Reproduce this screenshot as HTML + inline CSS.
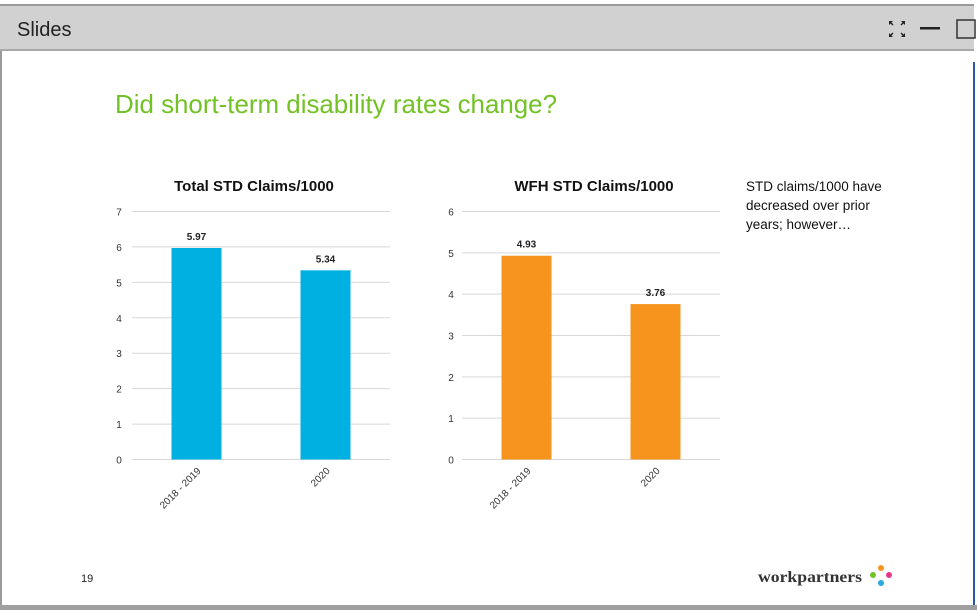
<!DOCTYPE html>
<html><head><meta charset="utf-8"><style>
html,body{margin:0;padding:0;background:#fff;}
svg{display:block;font-family:"Liberation Sans",Arial,sans-serif;}
</style></head><body>
<svg id="page" width="977" height="610" viewBox="0 0 977 610" xmlns="http://www.w3.org/2000/svg">
  <rect x="0" y="0" width="977" height="610" fill="#fff"/>
  <rect x="0" y="4" width="974" height="2" fill="#9a9a9a"/>
  <rect x="0" y="6" width="974" height="44" fill="#d1d1d1"/>
  <rect x="0" y="49" width="974" height="2" fill="#a8a8a8"/>
  <text x="17" y="36" font-size="20" fill="#222">Slides</text>
  <g fill="#222">
    <path d="M889 21h4l-1.5 1.5 2 2-1 1-2-2L889 25z"/>
    <path d="M905 21h-4l1.5 1.5-2 2 1 1 2-2L905 25z"/>
    <path d="M889 37h4l-1.5-1.5 2-2-1-1-2 2L889 33z"/>
    <path d="M905 37h-4l1.5-1.5-2-2 1-1 2 2L905 33z"/>
  </g>
  <rect x="920" y="27" width="20" height="2.5" fill="#222"/>
  <rect x="957" y="20" width="18" height="18" fill="none" stroke="#333" stroke-width="1.5"/>
  <rect x="0" y="51" width="2" height="559" fill="#9a9a9a"/>
  <rect x="973" y="62" width="2" height="544" fill="#2a56a8"/>
  <rect x="0" y="605" width="977" height="5" fill="#a0a0a0"/>

  <text x="115" y="113" font-size="26" fill="#72c127" textLength="442" lengthAdjust="spacingAndGlyphs">Did short-term disability rates change?</text>

  <g id="chart1"></g>
  <g id="chart2"></g>

  <g font-size="13.5" fill="#111">
    <text x="746" y="191">STD claims/1000 have</text>
    <text x="746" y="210">decreased over prior</text>
    <text x="746" y="229">years; however…</text>
  </g>
  <text x="81" y="582" font-size="11" fill="#222">19</text>
  <text x="758" y="582" font-size="15.5" font-weight="bold" fill="#333" font-family="Liberation Serif, serif" textLength="104" lengthAdjust="spacingAndGlyphs">workpartners</text>
  <g>
    <circle cx="881" cy="568" r="3" fill="#f7941d"/>
    <circle cx="873" cy="575" r="3" fill="#72c127"/>
    <circle cx="889" cy="575" r="3" fill="#e6398a"/>
    <circle cx="881" cy="583" r="3" fill="#27a9e1"/>
  </g>
</svg>
<script>
const categories = ["2018 - 2019", "2020"];
const totalValues = [5.97, 5.34];
const wfhValues = [4.93, 3.76];
const totalTicks = [0,1,2,3,4,5,6,7];
const wfhTicks = [0,1,2,3,4,5,6];
const totalLabels = ["5.97","5.34"];
const wfhLabels = ["4.93","3.76"];

const NS = "http://www.w3.org/2000/svg";
function mk(tag, attrs, parent, txt){
  const e = document.createElementNS(NS, tag);
  for (const k in attrs) e.setAttribute(k, attrs[k]);
  if (txt !== undefined) e.textContent = txt;
  parent.appendChild(e);
  return e;
}
function drawChart(g, cfg, values, ticks, labels){
  const maxV = ticks[ticks.length-1];
  const y = v => cfg.y0 - (v / maxV) * (cfg.y0 - cfg.yTop);
  const title = mk("text", {x: cfg.titleX, y: 191, "font-size": 15, "font-weight": "bold", fill: "#111", "text-anchor": "middle"}, g, cfg.title);
  
  
  ticks.forEach(t => {
    const ln = mk("line", {x1: cfg.gx1, x2: cfg.gx2, y1: y(t), y2: y(t), stroke: "#d8d8d8", "stroke-width": 1}, g);
    
    
    const tl = mk("text", {x: cfg.labelX, y: y(t) + 4, "font-size": 10, fill: "#333", "text-anchor": "middle"}, g, String(t));
    
    
  });
  const band = (cfg.gx2 - cfg.gx1) / values.length;
  values.forEach((v, i) => {
    const cx = cfg.gx1 + band * (i + 0.5);
    const r = mk("rect", {x: cx - cfg.bw/2, y: y(v), width: cfg.bw, height: y(0) - y(v), fill: cfg.color}, g);
    
    
    const vl = mk("text", {x: cx, y: y(v) - 8, "font-size": 10, "font-weight": "bold", fill: "#222", "text-anchor": "middle"}, g, labels[i]);
    
    
    const xl = mk("text", {x: cx + 5, y: cfg.y0 + 12, "font-size": 10, fill: "#333", "text-anchor": "end", transform: `rotate(-45 ${cx + 5} ${cfg.y0 + 12})`}, g, categories[i]);
    
    
  });
}
drawChart(document.getElementById("chart1"),
  {title: "Total STD Claims/1000", titleX: 254, y0: 459.5, yTop: 211.5, gx1: 132, gx2: 390, labelX: 119, bw: 50, color: "#00b0e0"},
  totalValues, totalTicks, totalLabels);
drawChart(document.getElementById("chart2"),
  {title: "WFH STD Claims/1000", titleX: 594, y0: 459.5, yTop: 211.5, gx1: 462, gx2: 720, labelX: 451, bw: 50, color: "#f7941d"},
  wfhValues, wfhTicks, wfhLabels);
</script>
</body></html>
